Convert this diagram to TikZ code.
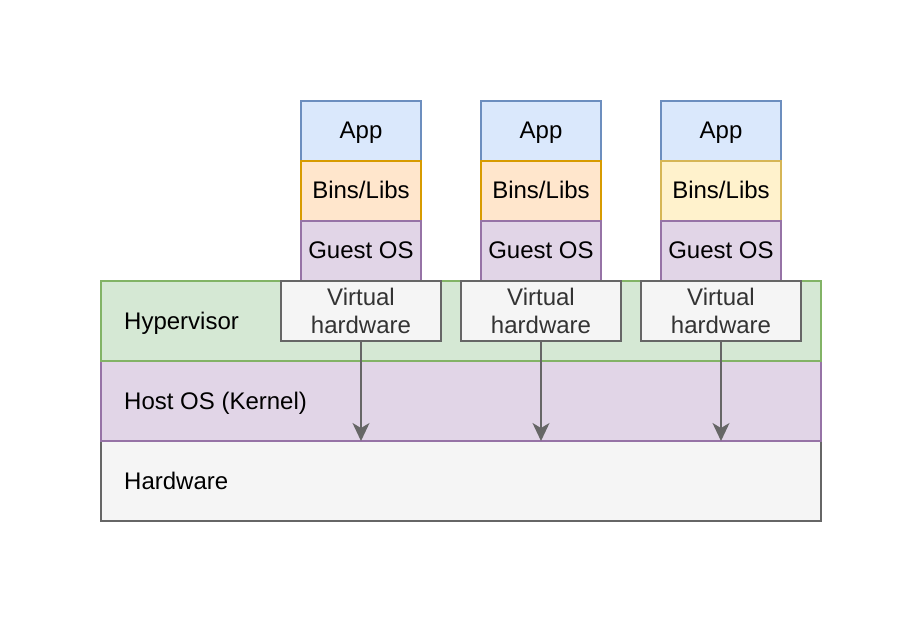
\documentclass[tikz,border=0pt]{standalone}
\usepackage{fontspec}
\setmainfont{Liberation Sans}
\usetikzlibrary{arrows.meta}
\definecolor{bluefill}{HTML}{DAE8FC}\definecolor{bluedraw}{HTML}{6C8EBF}
\definecolor{orfill}{HTML}{FFE6CC}\definecolor{ordraw}{HTML}{D79B00}
\definecolor{yefill}{HTML}{FFF2CC}\definecolor{yedraw}{HTML}{D6B656}
\definecolor{pufill}{HTML}{E1D5E7}\definecolor{pudraw}{HTML}{9673A6}
\definecolor{grfill}{HTML}{D5E8D4}\definecolor{grdraw}{HTML}{82B366}
\definecolor{gyfill}{HTML}{F5F5F5}\definecolor{gydraw}{HTML}{666666}
\begin{document}
\begin{tikzpicture}[x=1pt,y=-1pt,
  base/.style={rectangle, line width=1.6pt, inner sep=0pt, font=\fontsize{24}{27.4}\selectfont, text=black},
  layer/.style={base, minimum width=720pt, minimum height=80pt},
  cell/.style={base, minimum width=120pt, minimum height=60pt, text height=15.5pt, text depth=0pt},
  vhw/.style={base, draw=gydraw, fill=gyfill, text=black!80, minimum width=160pt, minimum height=60pt, align=center},
  app/.style={cell, draw=bluedraw, fill=bluefill},
  bins/.style={cell, draw=ordraw, fill=orfill},
  binsy/.style={cell, draw=yedraw, fill=yefill},
  guest/.style={cell, draw=pudraw, fill=pufill},
  lbl/.style={anchor=west, inner sep=0pt, font=\fontsize{24}{28}\selectfont, text height=16.5pt, text depth=0pt},
  arr/.style={draw=gydraw, line width=1.6pt, -{Stealth[length=18pt,width=17pt,inset=5pt]}}
]
\useasboundingbox (0,0) rectangle (924,624);
\fill[white] (0,0) rectangle (924,624);
% layers
\node[layer, draw=gydraw, fill=gyfill] (hw) at (461,481) {};
\node[layer, draw=pudraw, fill=pufill] (host) at (461,401) {};
\node[layer, draw=grdraw, fill=grfill] (hyp) at (461,321) {};
\node[lbl] (hwl) at (124,481) {Hardware};
\node[lbl] (hostl) at (124,401) {Host OS (Kernel)};
\node[lbl] (hypl) at (124,321) {Hypervisor};
% stacks
\node[app] (a1) at (361,131) {App};
\node[bins] (b1) at (361,191) {Bins/Libs};
\node[guest] (g1) at (361,251) {Guest OS};
\node[app] (a2) at (541,131) {App};
\node[bins] (b2) at (541,191) {Bins/Libs};
\node[guest] (g2) at (541,251) {Guest OS};
\node[app] (a3) at (721,131) {App};
\node[binsy] (b3) at (721,191) {Bins/Libs};
\node[guest] (g3) at (721,251) {Guest OS};
% virtual hardware
\node[vhw] (v1) at (361,311) {Virtual\\hardware};
\node[vhw] (v2) at (541,311) {Virtual\\hardware};
\node[vhw] (v3) at (721,311) {Virtual\\hardware};
% arrows
\coordinate (t1) at (361,441);
\coordinate (t2) at (541,441);
\coordinate (t3) at (721,441);
\draw[arr] (v1.south) -- (t1);
\draw[arr] (v2.south) -- (t2);
\draw[arr] (v3.south) -- (t3);
\end{tikzpicture}
\end{document}
